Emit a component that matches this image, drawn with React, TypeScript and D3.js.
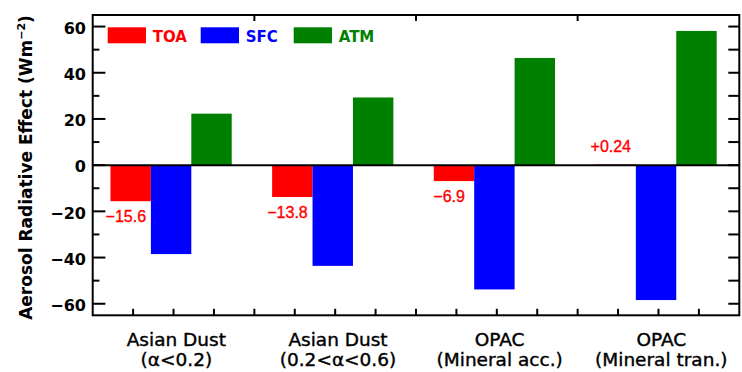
import * as d3 from 'd3';

const CATEGORIES: [string, string][] = [
  ['Asian Dust', '(α<0.2)'],
  ['Asian Dust', '(0.2<α<0.6)'],
  ['OPAC', '(Mineral acc.)'],
  ['OPAC', '(Mineral tran.)'],
];
const SERIES = ['TOA', 'SFC', 'ATM'];
const TOA = [-15.6, -13.8, -6.9, 0.24];
const SFC = [-38.5, -43.6, -53.8, -58.4];
const ATM = [22.3, 29.3, 46.4, 58.1];
const Y_TICKS = [-60, -40, -20, 0, 20, 40, 60];

const COLORS: Record<string, string> = {
  TOA: '#ff0000',
  SFC: '#0000ff',
  ATM: '#008000',
};

const W = 742;
const H = 372;
const left = 92.7;
const right = 739.3;
const top = 15;
const bottom = 315.3;

export default function App() {
  const x = d3.scaleLinear().domain([0, 16]).range([left, right]);
  const y = d3.scaleLinear().domain([-65, 65]).range([bottom, top]);
  const values: Record<string, number[]> = { TOA, SFC, ATM };

  // each group spans 4 units, bars 1 unit wide
  const barX = (g: number, k: number) => x(g * 4 + 0.44 + k);
  const bw = x(1) - x(0);

  const minor = d3.range(-60, 61, 10);
  const fmt = (v: number) => `${v > 0 ? '+' : '−'}${Math.abs(v)}`;

  return (
    <svg
      width={W}
      height={H}
      viewBox={`0 0 ${W} ${H}`}
      style={{ position: 'absolute', left: 0, top: 0, background: '#fff' }}
    >
      {/* bars */}
      {SERIES.map((s, k) =>
        values[s].map((v, g) => (
          <rect
            key={`${s}-${g}`}
            x={barX(g, k)}
            width={bw}
            y={Math.min(y(v), y(0))}
            height={Math.abs(y(v) - y(0))}
            fill={COLORS[s]}
          />
        ))
      )}

      {/* zero line */}
      <line x1={left} x2={right} y1={y(0)} y2={y(0)} stroke="#000" strokeWidth={2} />

      {/* TOA value labels */}
      {TOA.map((v, g) => (
        <text
          key={`lbl-${g}`}
          x={x(g * 4 + 0.82)}
          y={v < 0 ? y(v) + 21 : y(v) - 13}
          textAnchor="middle"
          fontFamily="'Liberation Sans', Arial, sans-serif"
          fontSize={16}
          fill={COLORS.TOA}
          stroke={COLORS.TOA}
          strokeWidth={0.35}
        >
          {fmt(v)}
        </text>
      ))}

      {/* left axis ticks */}
      {minor.map((t) => {
        const major = t % 20 === 0;
        return (
          <line
            key={`lt-${t}`}
            x1={left}
            x2={left + (major ? 12.7 : 6.7)}
            y1={y(t)}
            y2={y(t)}
            stroke="#000"
            strokeWidth={2}
          />
        );
      })}
      {/* right axis ticks */}
      {minor.map((t) => (
        <line
          key={`rt-${t}`}
          x1={right}
          x2={right - 11}
          y1={y(t)}
          y2={y(t)}
          stroke="#000"
          strokeWidth={2}
        />
      ))}
      {/* bottom ticks */}
      {d3.range(1, 16).map((t) => (
        <line key={`bt-${t}`} x1={x(t)} x2={x(t)} y1={bottom} y2={bottom - 6.5} stroke="#000" strokeWidth={2} />
      ))}
      {/* top ticks */}
      {[4, 8, 12].map((t) => (
        <line key={`tt-${t}`} x1={x(t)} x2={x(t)} y1={top} y2={top + 6} stroke="#000" strokeWidth={2} />
      ))}

      {/* frame */}
      <rect
        x={left}
        y={top}
        width={right - left}
        height={bottom - top}
        fill="none"
        stroke="#000"
        strokeWidth={2}
      />

      {/* y tick labels */}
      {Y_TICKS.map((t) => (
        <text
          key={`yl-${t}`}
          x={86}
          y={y(t) + 7.2}
          textAnchor="end"
          fontFamily="'DejaVu Sans', sans-serif"
          fontWeight="bold"
          fontSize={16}
          fill="#000"
        >
          {t < 0 ? `−${Math.abs(t)}` : t}
        </text>
      ))}

      {/* y axis title */}
      <text
        transform={`translate(31.5,167.5) rotate(-90)`}
        textAnchor="middle"
        fontFamily="'DejaVu Sans', sans-serif"
        fontWeight="bold"
        fontSize={17}
        fill="#000"
      >
        Aerosol Radiative Effect (Wm
        <tspan fontSize={11} dy={-7}>−2</tspan>
        <tspan dy={7}>)</tspan>
      </text>

      {/* category labels */}
      {CATEGORIES.map(([l1, l2], g) => (
        <g
          key={`cat-${g}`}
          fontFamily="'DejaVu Sans', sans-serif"
          fontSize={18.5}
          fill="#000"
          stroke="#000"
          strokeWidth={0.4}
          textAnchor="middle"
        >
          <text x={x(g * 4 + 2.07)} y={345.5}>{l1}</text>
          <text x={x(g * 4 + 2.07)} y={366}>{l2}</text>
        </g>
      ))}

      {/* legend */}
      {SERIES.map((s, i) => (
        <g key={`leg-${s}`}>
          <rect x={107.7 + i * 93} y={27.3} width={38.3} height={16} fill={COLORS[s]} />
          <text
            x={107.7 + i * 93 + 45}
            y={42}
            fontFamily="'DejaVu Sans', sans-serif"
            fontWeight="bold"
            fontSize={15}
            fill={COLORS[s]}
          >
            {s}
          </text>
        </g>
      ))}
    </svg>
  );
}
